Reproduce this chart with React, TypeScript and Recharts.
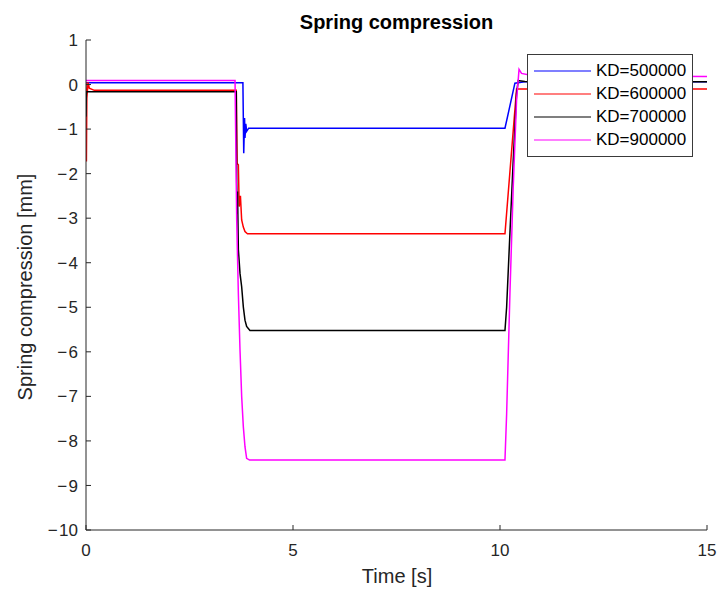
import { LineChart, Line, XAxis, YAxis, CartesianGrid } from "recharts";

// time [s] / spring compression [mm] for each damper setting
const kd500Time = [0, 3.79, 3.81, 3.83, 3.84, 3.86, 3.88, 3.93, 10.12, 10.36, 10.6, 15];
const kd500Value = [0.04, 0.04, -1.54, -0.75, -1.2, -0.88, -1.05, -0.98, -0.98, 0.03, 0.06, 0.06];

const kd600Time = [0, 0.01, 0.02, 0.05, 0.08, 0.2, 3.63, 3.65, 3.68, 3.7, 3.73, 3.76, 3.8, 3.84, 3.9, 10.12, 10.4, 10.6, 15];
const kd600Value = [0.05, -1.73, -0.3, 0.05, -0.08, -0.13, -0.13, -1.77, -1.8, -2.74, -2.5, -3.04, -3.2, -3.3, -3.35, -3.35, -0.1, -0.1, -0.1];

const kd700Time = [0, 0.01, 3.63, 3.64, 3.65, 3.66, 3.68, 3.72, 3.76, 3.8, 3.84, 3.88, 3.96, 10.12, 10.16, 10.24, 10.32, 10.4, 10.44, 10.6, 15];
const kd700Value = [-0.72, -0.16, -0.16, -2.2, -2.9, -2.4, -3.7, -4.24, -4.54, -4.99, -5.29, -5.43, -5.52, -5.52, -5.0, -3.33, -1.69, -0.2, 0.09, 0.07, 0.06];

const kd900Time = [0, 3.6, 3.64, 3.68, 3.72, 3.76, 3.8, 3.84, 3.88, 3.95, 10.12, 10.16, 10.24, 10.32, 10.4, 10.46, 10.52, 10.8, 15];
const kd900Value = [0.09, 0.09, -3.04, -4.69, -5.96, -7.0, -7.68, -8.13, -8.39, -8.43, -8.43, -7.4, -4.69, -2.29, -0.35, 0.34, 0.25, 0.2, 0.18];

const xTicks = [0, 5, 10, 15];
const yTicks = [1, 0, -1, -2, -3, -4, -5, -6, -7, -8, -9, -10];

const series = [
  { name: "KD=500000", color: "#0000ff", t: kd500Time, v: kd500Value },
  { name: "KD=600000", color: "#ff0000", t: kd600Time, v: kd600Value },
  { name: "KD=700000", color: "#000000", t: kd700Time, v: kd700Value },
  { name: "KD=900000", color: "#ff00ff", t: kd900Time, v: kd900Value },
];

const FONT = "'Liberation Sans', Arial, Helvetica, sans-serif";
const AXIS = "#262626";
const TICK_LEN = 5;

const fmt = (n: number) => (n < 0 ? "\u2212\u200A" + String(-n) : String(n));

// ticks point into the plot box
const LeftTick = ({ x, y, payload }: any) => (
  <g>
    <line x1={x} x2={x + TICK_LEN} y1={y} y2={y} stroke={AXIS} />
    <text x={x - 8} y={y} dy="0.36em" textAnchor="end" fontSize={17} fill={AXIS} fontFamily={FONT}>
      {fmt(payload.value)}
    </text>
  </g>
);
const RightTick = ({ x, y }: any) => <line x1={x - TICK_LEN} x2={x} y1={y} y2={y} stroke={AXIS} />;
const BottomTick = ({ x, y, payload }: any) => (
  <g>
    <line x1={x} x2={x} y1={y - TICK_LEN} y2={y} stroke={AXIS} />
    <text x={x} y={y + 26} textAnchor="middle" fontSize={17} fill={AXIS} fontFamily={FONT}>
      {fmt(payload.value)}
    </text>
  </g>
);
const TopTick = ({ x, y }: any) => <line x1={x} x2={x} y1={y} y2={y + TICK_LEN} stroke={AXIS} />;

export default function App() {
  return (
    <div style={{ position: "absolute", left: 0, top: 0, width: 721, height: 589, background: "#fff", fontFamily: FONT }}>
      <LineChart width={721} height={589} margin={{ top: 40, right: 14, bottom: 29, left: 26 }}>
        <CartesianGrid stroke="#e3e3e3" strokeWidth={1} horizontalValues={yTicks} verticalValues={xTicks} />
        <XAxis
          xAxisId="bottom"
          type="number"
          dataKey="t"
          domain={[0, 15]}
          ticks={xTicks}
          allowDataOverflow
          height={30}
          stroke={AXIS}
          tickLine={false}
          tickSize={0}
          tickMargin={0}
          tick={<BottomTick />}
        />
        <XAxis
          xAxisId="top"
          orientation="top"
          type="number"
          domain={[0, 15]}
          ticks={xTicks}
          height={0}
          stroke={AXIS}
          tickLine={false}
          tickSize={0}
          tickMargin={0}
          tick={<TopTick />}
        />
        <YAxis
          yAxisId="left"
          type="number"
          domain={[-10, 1]}
          ticks={yTicks}
          allowDataOverflow
          width={60}
          stroke={AXIS}
          tickLine={false}
          tickSize={0}
          tickMargin={0}
          tick={<LeftTick />}
        />
        <YAxis
          yAxisId="right"
          orientation="right"
          type="number"
          domain={[-10, 1]}
          ticks={yTicks}
          width={0}
          stroke={AXIS}
          tickLine={false}
          tickSize={0}
          tickMargin={0}
          tick={<RightTick />}
        />
        {series.map((s) => (
          <Line
            key={s.name}
            xAxisId="bottom"
            yAxisId="left"
            data={s.t.map((t, i) => ({ t, v: s.v[i] }))}
            dataKey="v"
            name={s.name}
            type="linear"
            stroke={s.color}
            strokeWidth={1.5}
            dot={false}
            isAnimationActive={false}
          />
        ))}
      </LineChart>

      <div style={{ position: "absolute", left: 0, width: 793, top: 11, textAlign: "center", fontSize: 20, fontWeight: "bold", color: "#000" }}>
        Spring compression
      </div>
      <div style={{ position: "absolute", left: 86, width: 622, top: 565, textAlign: "center", fontSize: 20, color: AXIS }}>
        Time [s]
      </div>
      <div
        style={{
          position: "absolute",
          left: 25,
          top: 287,
          transform: "translate(-50%, -50%) rotate(-90deg)",
          whiteSpace: "nowrap",
          fontSize: 20,
          color: AXIS,
        }}
      >
        Spring compression [mm]
      </div>

      <div
        style={{
          position: "absolute",
          left: 527,
          top: 54,
          width: 164,
          height: 97,
          border: "1px solid #3a3a3a",
          background: "#fff",
          paddingTop: 4,
          boxSizing: "content-box",
        }}
      >
        {series.map((s) => (
          <div key={s.name} style={{ display: "flex", alignItems: "center", height: 23 }}>
            <svg width={63} height={4} style={{ display: "block" }}>
              <line x1={6} x2={63} y1={2} y2={2} stroke={s.color} strokeWidth={1.2} />
            </svg>
            <span style={{ marginLeft: 5, fontSize: 17, color: "#000", lineHeight: "23px" }}>{s.name}</span>
          </div>
        ))}
      </div>
    </div>
  );
}
